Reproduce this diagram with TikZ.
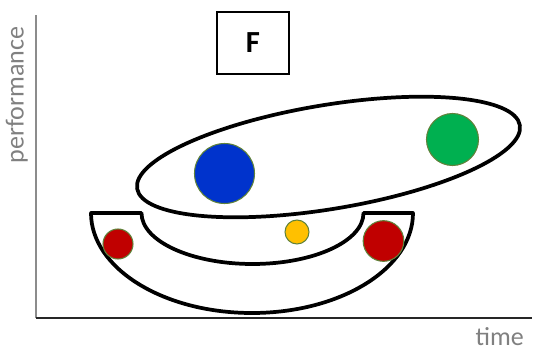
\documentclass[tikz,border=0pt]{standalone}
\usepackage{fontspec}
\setmainfont{Carlito}
\definecolor{axisgray}{RGB}{140,140,140}
\definecolor{labelgray}{RGB}{128,128,128}
\definecolor{dotrim}{RGB}{96,130,58}
\definecolor{dotred}{RGB}{192,0,0}
\definecolor{dotyellow}{RGB}{255,192,0}
\definecolor{dotblue}{RGB}{0,51,204}
\definecolor{dotgreen}{RGB}{0,176,80}
\usetikzlibrary{positioning}

\tikzset{
  dot/.style={circle,draw=dotrim,line width=0.8pt,inner sep=0pt,outer sep=0pt},
  group/.style={draw=black,line width=2.8pt,line join=round},
  axislabel/.style={text=labelgray,font=\fontsize{19.5}{24}\selectfont,inner sep=0pt}
}

\begin{document}
\begin{tikzpicture}[x=0.75pt,y=-0.75pt]
\useasboundingbox (0,0) rectangle (533,354);
% axes
\coordinate (top) at (36,15);
\coordinate (origin) at (36,318);
\coordinate (right) at (532,318);
\draw[axisgray,line width=1.6pt] (top) -- (origin);
\draw[black!85,line width=1.6pt] (origin) -- (right);
\node[axislabel,rotate=90,anchor=south] (perf) at (28,95) {performance};
\node[axislabel,anchor=base east] (time) at (524,345) {time};
% F box
\node[draw,line width=1.6pt,minimum width=54pt,minimum height=46.5pt,inner sep=0pt,font=\bfseries\fontsize{23}{26}\selectfont] (fbox) at (253,43) {F};
% long ellipse
\draw[group,rotate around={9.4:(328.5,157)}] (328.5,157) ellipse [x radius=194, y radius=52];
% bowl
\draw[group] (91,213) -- (141.5,213)
  arc[start angle=180,end angle=0,x radius=111,y radius=51] -- (413,213)
  arc[start angle=0,end angle=180,x radius=161,y radius=100] -- cycle;
% dots
\node[dot,fill=dotblue,minimum size=45pt] (blue) at (224.5,173.5) {};
\node[dot,fill=dotgreen,minimum size=39pt] (green) at (452.5,139.5) {};
\node[dot,fill=dotred,minimum size=22.5pt] (redleft) at (118,244) {};
\node[dot,fill=dotyellow,minimum size=18pt] (yellow) at (297,232) {};
\node[dot,fill=dotred,minimum size=30.5pt] (redright) at (383.5,241) {};
\end{tikzpicture}
\end{document}
